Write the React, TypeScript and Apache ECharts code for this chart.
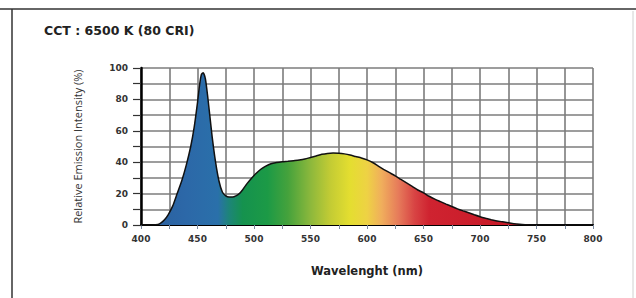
import React, { useEffect, useRef } from "react";
import * as echarts from "echarts";

const wavelengths = [
  400, 410, 415, 418, 421, 424, 428, 432, 436, 440, 444, 447, 450, 452, 453.5, 455, 457, 459, 461, 463,
  466, 469, 472, 475, 478, 481, 484, 487, 490, 494, 498, 502, 506, 510, 515, 520, 525, 530, 535, 540,
  545, 550, 555, 560, 565, 570, 575, 580, 585, 590, 595, 600, 605, 610, 615, 620, 625, 630, 635, 640,
  645, 650, 655, 660, 665, 670, 675, 680, 685, 690, 695, 700, 705, 710, 715, 720, 725, 730, 735, 740,
  750, 800,
];
const intensities = [
  0, 0, 0.3, 1.5, 3.5, 6.5, 12, 20, 28, 38, 50, 62, 78, 90, 96, 97, 93, 82, 69, 56,
  40, 28, 21, 18.5, 17.8, 17.8, 18.5, 20, 22.5, 26.5, 30, 33, 35.5, 37.3, 39, 39.8, 40.3, 40.6, 41, 41.4,
  42, 43, 44, 45, 45.6, 45.8, 45.7, 45.3, 44.6, 43.6, 42.7, 41.5, 39.8, 37.5, 35.3, 33.3, 31.3, 29, 26.8, 24.6,
  22.3, 20.5, 18.3, 16.5, 14.9, 13.3, 11.8, 10.3, 9, 7.8, 6.5, 5.3, 4.3, 3.4, 2.6, 2, 1.4, 0.8, 0.4, 0.2,
  0, 0,
];

const spectrumStops: [number, string][] = [
  [400, "#2b5e9c"],
  [440, "#2c68a8"],
  [468, "#2a70aa"],
  [478, "#1d8578"],
  [490, "#15924e"],
  [512, "#1c9a46"],
  [530, "#45a23c"],
  [550, "#8cb83c"],
  [568, "#c4cc34"],
  [585, "#e4de30"],
  [600, "#eed244"],
  [613, "#f0ae5c"],
  [628, "#e67a5a"],
  [642, "#d84444"],
  [655, "#cf2330"],
  [720, "#c81a28"],
  [800, "#c81a28"],
];

const xMin = 400;
const xMax = 800;
const title = "CCT : 6500 K (80 CRI)";
const xName = "Wavelenght (nm)";
const yName = "Relative Emission Intensity (%)";

export default function App() {
  const ref = useRef<HTMLDivElement>(null);
  useEffect(() => {
    if (!ref.current) return;
    const chart = echarts.init(ref.current, undefined, { renderer: "svg" });
    const data = wavelengths.map((w, i) => [w, intensities[i]]);
    const gradient = new echarts.graphic.LinearGradient(
      0, 0, 1, 0,
      spectrumStops.map(([w, c]) => ({ offset: (w - xMin) / (xMax - xMin), color: c }))
    );
    const gridColor = "#7c7c7c";
    const labelFont = { fontFamily: "DejaVu Sans", fontSize: 9, fontWeight: "bold", color: "#333" };
    chart.setOption({
      animation: false,
      backgroundColor: "#ffffff",
      title: {
        text: title,
        left: 39,
        top: 19,
        textStyle: { fontFamily: "DejaVu Sans", fontSize: 12.5, fontWeight: "bold", color: "#222" },
      },
      graphic: [
        { type: "line", shape: { x1: 0, y1: 9, x2: 636, y2: 9 }, style: { stroke: "#333", lineWidth: 1.5 } },
        { type: "line", shape: { x1: 12, y1: 9, x2: 12, y2: 298 }, style: { stroke: "#333", lineWidth: 1.5 } },
        { type: "line", shape: { x1: 633, y1: 11, x2: 633, y2: 298 }, style: { stroke: "#d0d0d0", lineWidth: 1 } },
      ],
      grid: { left: 141, right: 43, top: 68, bottom: 73 },
      xAxis: {
        type: "value",
        min: xMin,
        max: xMax,
        interval: 50,
        name: xName,
        nameLocation: "middle",
        nameGap: 40,
        nameTextStyle: { fontFamily: "DejaVu Sans", fontSize: 11.5, fontWeight: "bold", color: "#222" },
        axisLine: { show: true, onZero: false, lineStyle: { color: "#000", width: 2 } },
        axisTick: { show: true, length: 4, lineStyle: { color: "#7a8aa0", width: 1 } },
        minorTick: { show: true, splitNumber: 2, length: 4, lineStyle: { color: "#7a8aa0", width: 1 } },
        axisLabel: { ...labelFont, margin: 9 },
        splitLine: { show: true, lineStyle: { color: gridColor, width: 1.6 } },
        minorSplitLine: { show: true, lineStyle: { color: gridColor, width: 1.6 } },
      },
      yAxis: {
        type: "value",
        min: 0,
        max: 100,
        interval: 20,
        name: yName,
        nameLocation: "middle",
        nameGap: 58,
        nameRotate: 90,
        nameTextStyle: { fontFamily: "Open Sans", fontSize: 11, color: "#333" },
        axisLine: { show: true, lineStyle: { color: "#000", width: 2.5 } },
        axisTick: { show: true, length: 8, lineStyle: { color: "#333", width: 1.2 } },
        minorTick: { show: true, splitNumber: 2, length: 8, lineStyle: { color: "#333", width: 1.2 } },
        axisLabel: { ...labelFont, margin: 13 },
        splitLine: { show: true, lineStyle: { color: gridColor, width: 1.6 } },
        minorSplitLine: { show: true, lineStyle: { color: gridColor, width: 1.6 } },
      },
      series: [
        {
          type: "line",
          data,
          smooth: 0.2,
          showSymbol: false,
          lineStyle: { color: "#111", width: 1.5 },
          areaStyle: { color: gradient, opacity: 1 },
          z: 3,
        },
      ],
    });
    return () => chart.dispose();
  }, []);
  return (
    <div
      ref={ref}
      style={{ position: "fixed", left: 0, top: 0, width: 636, height: 298 }}
    />
  );
}
